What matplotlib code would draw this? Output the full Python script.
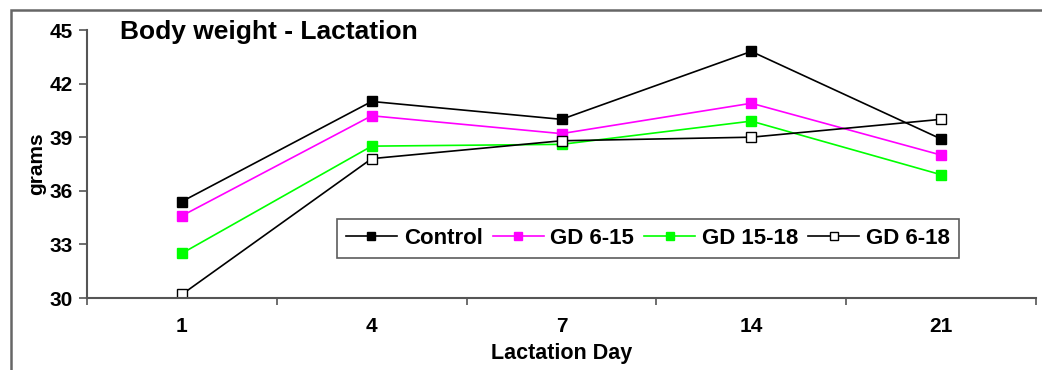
import matplotlib
matplotlib.use("Agg")
import matplotlib.pyplot as plt
import numpy as np
from matplotlib.patches import Rectangle

plt.rcParams['font.family'] = ['Liberation Sans', 'DejaVu Sans']
plt.rcParams['font.weight'] = 'bold'

days = ["1", "4", "7", "14", "21"]
control = [35.4, 41.0, 40.0, 43.8, 38.9]
gd_6_15 = [34.6, 40.2, 39.2, 40.9, 38.0]
gd_15_18 = [32.5, 38.5, 38.6, 39.9, 36.9]
gd_6_18 = [30.2, 37.8, 38.8, 39.0, 40.0]

fig = plt.figure(figsize=(10.42, 3.70), dpi=100)
ax = fig.add_axes([87 / 1042, 1 - 298 / 370, (1036 - 87) / 1042, (298 - 30) / 370])

x = np.arange(len(days)) + 0.5
ms = 7.5
ax.plot(x, control, color="black", lw=1.2, marker="s", ms=ms, mfc="black", mec="black", label="Control")
ax.plot(x, gd_6_15, color="#FF00FF", lw=1.2, marker="s", ms=ms, mfc="#FF00FF", mec="#FF00FF", label="GD 6-15")
ax.plot(x, gd_15_18, color="#00FF00", lw=1.2, marker="s", ms=ms, mfc="#00FF00", mec="#00FF00", label="GD 15-18")
ax.plot(x, gd_6_18, color="black", lw=1.2, marker="s", ms=ms, mfc="white", mec="black", label="GD 6-18")

ax.set_xlim(0, len(days))
ax.set_ylim(30, 45)
ax.set_yticks([30, 33, 36, 39, 42, 45])
ax.set_xticks(np.arange(len(days) + 1))
ax.set_xticklabels([])
ax.set_xticks(x, minor=True)
ax.set_xticklabels(days, minor=True)
ax.tick_params(axis="x", which="minor", length=0, pad=14, labelsize=15)
ax.tick_params(axis="x", which="major", length=5, direction="out", color="#555555", width=1.2)
ax.tick_params(axis="y", length=6, direction="out", color="#555555", width=1.2, labelsize=15, pad=4)

for side in ["top", "right"]:
    ax.spines[side].set_visible(False)
for side in ["left", "bottom"]:
    ax.spines[side].set_color("#555555")
    ax.spines[side].set_linewidth(1.5)

ax.set_xlabel("Lactation Day", fontsize=15.5, fontweight="bold", labelpad=5)
ax.set_ylabel("grams", fontsize=15, fontweight="bold", labelpad=3)
fig.text(120 / 1042, 1 - 39.5 / 370, "Body weight - Lactation",
         fontsize=19, fontweight="bold", va="baseline", ha="left")

leg = ax.legend(loc="lower left", bbox_to_anchor=((337 - 87) / 949, (298 - 258) / 268),
                ncol=4, frameon=True, fancybox=False, fontsize=16, handlelength=2.3,
                columnspacing=0.45, handletextpad=0.3, borderpad=0.4, borderaxespad=0,
                markerscale=0.85)
leg.get_frame().set_edgecolor("#333333")
leg.get_frame().set_linewidth(1.2)

# outer chart border
fig.add_artist(Rectangle((11 / 1042, -0.1), 1.2, 1 - 10 / 370 + 0.1, transform=fig.transFigure,
                         fill=False, edgecolor="#666666", lw=1.8))

fig.savefig("out.png", dpi=100)
